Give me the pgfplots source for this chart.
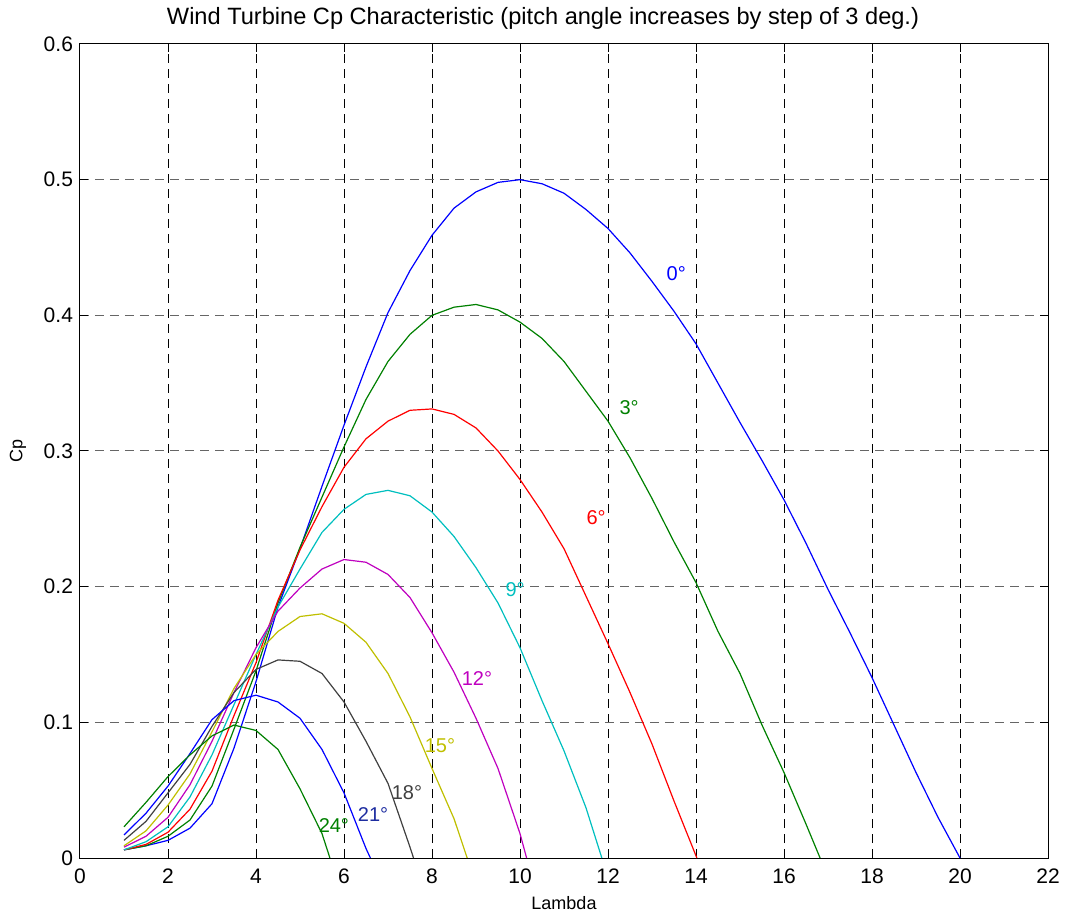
\documentclass[border=0pt]{standalone}
\usepackage{fontspec}
\setmainfont{Liberation Sans}
\usepackage{pgfplots}
\pgfplotsset{compat=1.18}
\definecolor{mlblue}{RGB}{0,0,255}
\definecolor{mlgreen}{RGB}{0,128,0}
\definecolor{mlred}{RGB}{255,0,0}
\definecolor{mlcyan}{RGB}{0,191,191}
\definecolor{mlmag}{RGB}{191,0,191}
\definecolor{mlyel}{RGB}{191,191,0}
\definecolor{mlgray}{RGB}{64,64,64}
\definecolor{mlnavy}{RGB}{30,45,160}
\begin{document}
\begin{tikzpicture}
\begin{axis}[
  scale only axis, width=484pt, height=407pt,
  xmin=0, xmax=22, ymin=0, ymax=0.6,
  xtick={0,2,4,6,8,10,12,14,16,18,20,22},
  ytick={0,0.1,0.2,0.3,0.4,0.5,0.6},
  yticklabels={0,0.1,0.2,0.3,0.4,0.5,0.6},
  /pgf/number format/assume math mode=true,
  tick label style={font=\fontsize{10.5}{12}\selectfont},
  xticklabel style={yshift=-2pt},
  tick align=inside, major tick length=4pt,
  tick style={black, line width=0.5pt},
  axis line style={line width=0.5pt},
  grid=major,
  major x grid style={black, line width=0.5pt, dash pattern=on 4.5pt off 3pt},
  major y grid style={black!60, line width=0.5pt, dash pattern=on 4.5pt off 3pt},
  xlabel={Lambda}, ylabel={Cp},
  xlabel style={font=\fontsize{9}{11}\selectfont, at={(axis description cs:0.5,-0.0553)}, anchor=center},
  ylabel style={font=\fontsize{9}{11}\selectfont, at={(axis description cs:-0.064,0.5)}, anchor=center},
  every axis plot/.append style={line width=0.6pt, mark=none},
]
\addplot[mlblue] coordinates {(1,0.006)(1.5,0.009)(2,0.013)(2.5,0.022)(3,0.040)(3.5,0.081)(4,0.130)(4.5,0.185)(5,0.228)(5.5,0.274)(6,0.319)(6.5,0.362)(7,0.402)(7.5,0.433)(8,0.459)(8.5,0.479)(9,0.491)(9.5,0.498)(10,0.500)(10.5,0.497)(11,0.490)(11.5,0.478)(12,0.464)(12.5,0.446)(13,0.425)(13.5,0.403)(14,0.379)(14.5,0.350)(15,0.321)(15.5,0.293)(16,0.264)(16.5,0.232)(17,0.198)(17.5,0.166)(18,0.133)(18.5,0.098)(19,0.063)(19.5,0.030)(20,0)};
\addplot[mlgreen] coordinates {(1,0.006)(1.5,0.009)(2,0.016)(2.5,0.028)(3,0.053)(3.5,0.095)(4,0.138)(4.5,0.188)(5,0.229)(5.5,0.266)(6,0.303)(6.5,0.338)(7,0.366)(7.5,0.386)(8,0.400)(8.5,0.406)(9,0.408)(9.5,0.404)(10,0.395)(10.5,0.383)(11,0.366)(11.5,0.344)(12,0.322)(12.5,0.295)(13,0.265)(13.5,0.233)(14,0.203)(14.5,0.167)(15,0.136)(15.5,0.098)(16,0.063)(16.5,0.025)(16.82,0)};
\addplot[mlred] coordinates {(1,0.006)(1.5,0.010)(2,0.019)(2.5,0.036)(3,0.064)(3.5,0.105)(4,0.144)(4.5,0.190)(5,0.227)(5.5,0.259)(6,0.288)(6.5,0.309)(7,0.322)(7.5,0.330)(8,0.331)(8.5,0.327)(9,0.317)(9.5,0.300)(10,0.279)(10.5,0.255)(11,0.228)(11.5,0.193)(12,0.158)(12.5,0.122)(13,0.084)(13.5,0.042)(14.02,0)};
\addplot[mlcyan] coordinates {(1,0.006)(1.5,0.012)(2,0.023)(2.5,0.045)(3,0.076)(3.5,0.113)(4,0.150)(4.5,0.185)(5,0.213)(5.5,0.240)(6,0.257)(6.5,0.268)(7,0.271)(7.5,0.267)(8,0.255)(8.5,0.237)(9,0.214)(9.5,0.188)(10,0.155)(10.5,0.116)(11,0.079)(11.5,0.037)(11.86,0)};
\addplot[mlmag] coordinates {(1,0.008)(1.5,0.016)(2,0.030)(2.5,0.054)(3,0.086)(3.5,0.122)(4,0.155)(4.5,0.182)(5,0.199)(5.5,0.213)(6,0.220)(6.5,0.218)(7,0.209)(7.5,0.192)(8,0.166)(8.5,0.137)(9,0.103)(9.5,0.066)(10,0.018)(10.15,0)};
\addplot[mlyel] coordinates {(1,0.009)(1.5,0.020)(2,0.039)(2.5,0.062)(3,0.093)(3.5,0.125)(4,0.150)(4.5,0.167)(5,0.178)(5.5,0.180)(6,0.173)(6.5,0.159)(7,0.136)(7.5,0.104)(8,0.066)(8.5,0.029)(8.8,0)};
\addplot[mlgray] coordinates {(1,0.013)(1.5,0.027)(2,0.048)(2.5,0.069)(3,0.097)(3.5,0.122)(4,0.139)(4.5,0.146)(5,0.145)(5.5,0.136)(6,0.115)(6.5,0.086)(7,0.055)(7.5,0.008)(7.58,0)};
\addplot[mlblue] coordinates {(1,0.017)(1.5,0.033)(2,0.053)(2.5,0.077)(3,0.102)(3.5,0.116)(4,0.120)(4.5,0.115)(5,0.103)(5.5,0.080)(6,0.048)(6.5,0.007)(6.6,0)};
\addplot[mlgreen] coordinates {(1,0.023)(1.5,0.041)(2,0.060)(2.5,0.076)(3,0.090)(3.5,0.098)(4,0.094)(4.5,0.080)(5,0.051)(5.5,0.018)(5.68,0)};
\begin{scope}[every node/.style={font=\fontsize{10}{12}\selectfont, inner sep=0pt}]
\node[mlblue] at (axis cs:13.55,0.431) {0°};
\node[mlgreen] at (axis cs:12.48,0.332) {3°};
\node[mlred] at (axis cs:11.73,0.251) {6°};
\node[mlcyan] at (axis cs:9.89,0.198) {9°};
\node[mlmag] at (axis cs:9.02,0.132) {12°};
\node[mlyel] at (axis cs:8.18,0.083) {15°};
\node[mlgray] at (axis cs:7.43,0.048) {18°};
\node[mlnavy] at (axis cs:6.66,0.032) {21°};
\node[mlgreen] at (axis cs:5.77,0.024) {24°};
\end{scope}
\end{axis}
\node[anchor=base, font=\fontsize{11.8}{13}\selectfont, inner sep=0pt] at (231.5pt,416.5pt) {Wind Turbine Cp Characteristic (pitch angle increases by step of 3 deg.)};
\pgfresetboundingbox
\path[use as bounding box] (-40pt,-29pt) rectangle (492.5pt,429pt);
\end{tikzpicture}
\end{document}
